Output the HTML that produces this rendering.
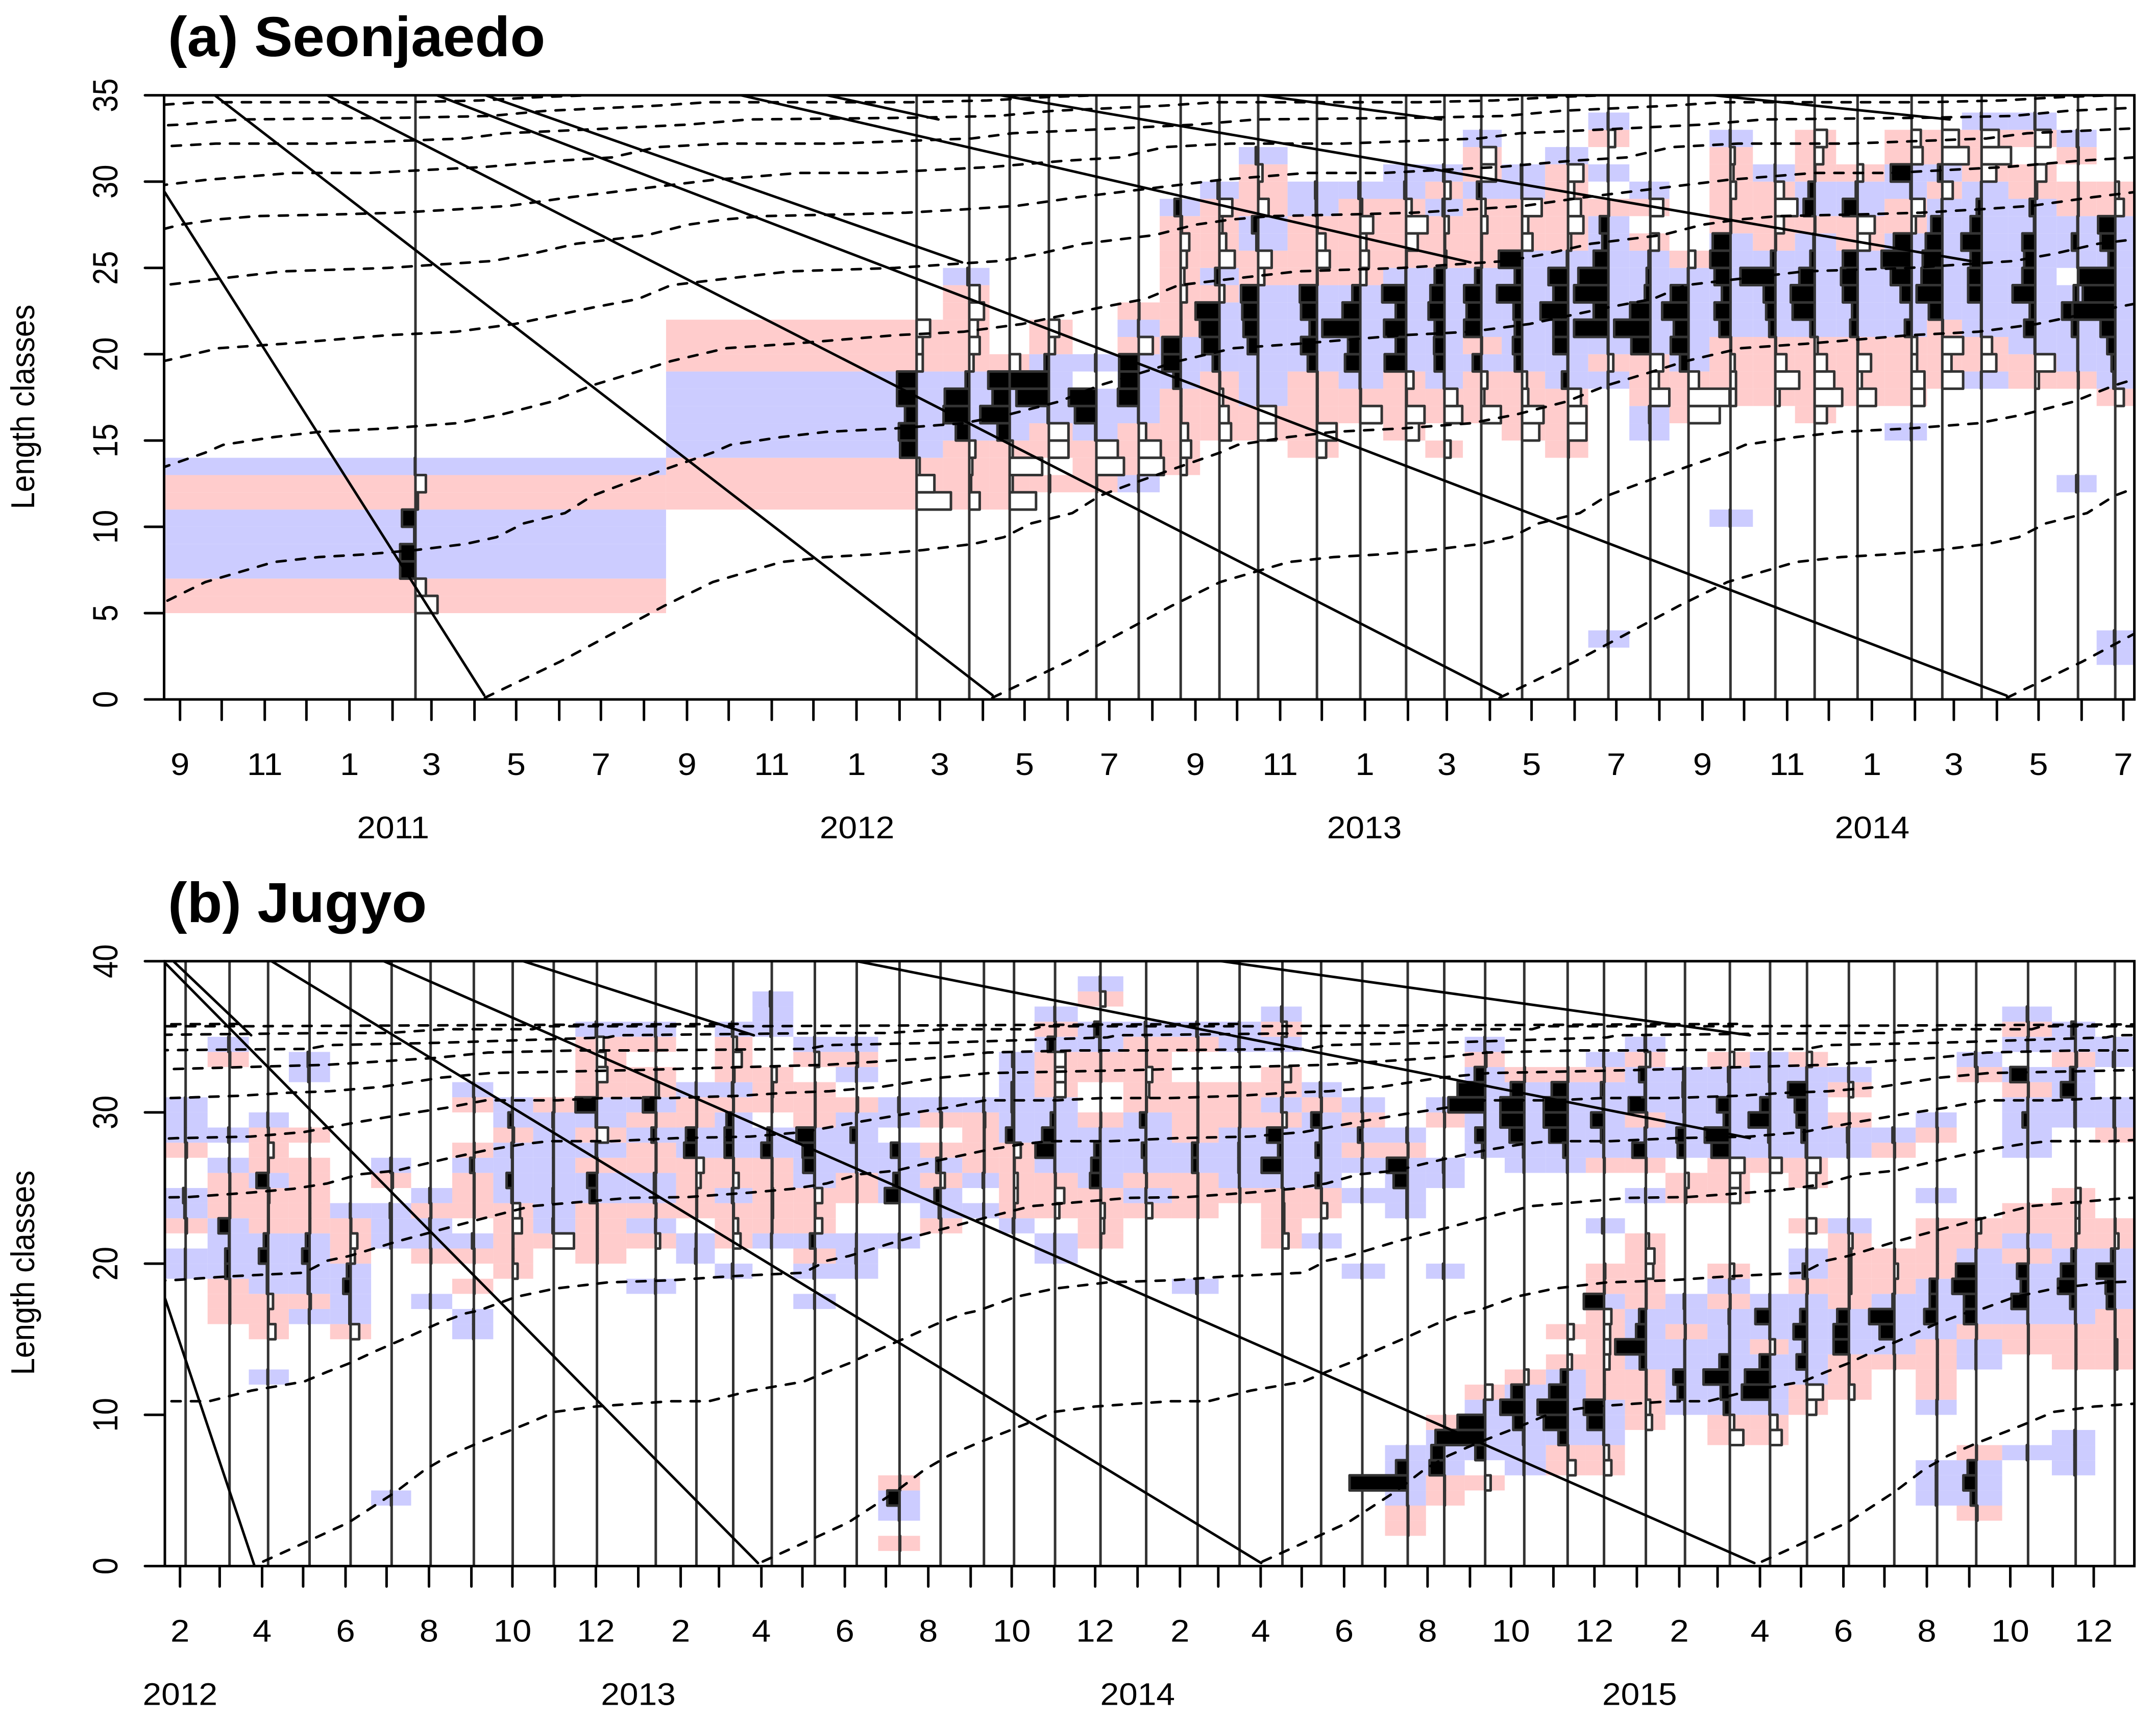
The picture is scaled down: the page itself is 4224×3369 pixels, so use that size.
<!DOCTYPE html>
<html lang="en">
<head>
<meta charset="utf-8">
<title>Length-frequency growth curves: Seonjaedo and Jugyo</title>
<style>
html,body{margin:0;padding:0;background:#fff;width:4224px;height:3369px;overflow:hidden}
svg{display:block}
text{font-family:"Liberation Sans",Arial,sans-serif;fill:#000}
</style>
</head>
<body>
<svg id="figure" xmlns="http://www.w3.org/2000/svg" width="4224" height="3369" viewBox="0 0 4224 3369">
<rect x="0" y="0" width="4224" height="3369" fill="#fff"/>
<text transform="translate(329,110) scale(1.025,1)" font-size="110" font-weight="bold">(a) Seonjaedo</text>
<text transform="translate(329,1806) scale(1.025,1)" font-size="110" font-weight="bold">(b) Jugyo</text>
<text transform="translate(67,797) rotate(-90) scale(0.985,1.07)" font-size="61" text-anchor="middle">Length classes</text>
<text transform="translate(67,2493) rotate(-90) scale(0.985,1.07)" font-size="61" text-anchor="middle">Length classes</text>
<g id="panel-a"></g>
<g id="panel-b"></g>
</svg>
<script>
/* ---------- PANEL A DATA (days since 1 Sep 2010; lengths in classes) ---------- */
const sampleDaysA = [169.5,530.3,568.2,597.3,625.5,659.7,690.2,720.4,748.3,776.2,818.5,849.7,882.7,910.3,936.8,966.2,999.3,1028.3,1058.5,1086,1116.2,1148.5,1176.8,1207.7,1246.6,1268.7,1297,1335.6,1366.4,1393.2];
/* each row: first value = lowest length class, then the signed score per class (up) */
const scoresA = [
[5,-36,-17,25,25,2,22,-4,-17,1],
[11,-56,-29,-5,27,29,19,32,32,-10,-10,-22],
[11,-17,-3,-5,-10,22,42,40,6,-7,-17,-14,-24,-17,3],
[11,-43,-5,-53,-5,20,48,28,35,-17],
[12,-2,0,-32,-32,2,53,64,7,-10,-17],
[12,-1,-45,-35,2,35,45,0,2],
[12,1,-41,-36,-12,1,34,32,32,-23,1,-1],
[13,-10,-17,-12,-1,-1,12,30,30,-1,-1,-10,-6,-10,-14,-2,10],
[15,-19,-15,-6,-1,11,28,32,39,-8,7,-25,-11,-5,-21,3],
[15,-29,-29,1,1,1,17,24,26,28,-10,-22,3,10,-17,-1,-7,4],
[14,-15,-32,-1,-1,-1,15,26,12,26,28,-1,-21,-14,-1,2,3],
[16,-35,-1,1,25,20,62,29,13,-10,-14,-10,-21,-3,3],
[15,-21,-30,-1,-12,35,17,36,17,39,1,-1,-19,-35,-9,3,1],
[14,-10,0,-29,-21,1,16,17,16,26,23,16,-3,-1,-7,3,-10,2],
[16,-32,-5,-10,14,-1,28,24,28,10,-1,-1,-10,-7,7,-24,-24,1],
[15,-28,-35,-10,-8,12,15,12,14,41,12,38,-17,-10,-32,1,2],
[14,-1,-30,-30,-21,10,1,24,24,45,24,32,2,-5,-25,-21,-10,-25,1],
[3,1,0,0,0,0,0,0,0,0,0,0,0,0,0,0,1,-8,1,56,24,56,49,24,10,14,-1,0,1,0,-11,1],
[15,1,2,-31,-14,-21,31,59,33,9,6,3,-14,0,-21,1],
[16,-51,-67,-17,14,29,24,43,29,1,-11],
[10,1,0,0,0,0,0,0,-9,-9,-7,-1,18,26,14,26,33,29,-1,-1,-9,-5,-7,1],
[17,-7,-39,-18,-1,10,15,19,57,7,-1,-14,-36,-14,1],
[16,-20,-45,-32,-20,-5,7,36,39,25,7,2,-1,18,10,-1,-14,-20],
[17,-30,-7,-22,-1,12,9,24,27,24,-20,-28,24,3,-9],
[15,1,0,-21,-21,-9,-9,11,2,18,34,49,29,-7,-21,2,34,-18,-15],
[18,-34,-15,-34,-1,22,42,34,32,27,18,1,-17,7,-43,-27],
[18,1,-24,-17,1,1,22,22,18,33,18,8,1,-24,-48,-28,1],
[18,-6,-32,1,18,9,37,21,18,21,2,9,-3,-18,0,-25,1],
[12,3,0,0,0,0,0,-1,1,1,10,26,7,0,1,10,1,-1,-1,0,-1,2],
[2,1,2,0,0,0,0,0,0,0,0,0,0,0,0,0,-14,3,6,13,24,70,53,60,11,24,28,-14,-6]
];
const growthAgeA = [0,.149,.352,.449,.584,.673,.763,.863,.961,1.023,1.077,1.158,1.212,1.266,1.352,1.449,1.484,1.584,1.673,1.808,1.943,2.032,2.131,2.212,2.302,2.367,2.476,2.602,2.808,2.943,3.059,3.212,3.302,3.367,3.453,3.602,3.808,4.014,4.09,4.18,4.32,4.4,4.47,4.55,4.71,4.83,4.95,5.05,5.17,5.31,5.45,5.62,5.77,6,6.14,6.25,6.34,6.47,6.69,6.96,7.04,7.19,7.4,7.52,7.84,8.01,8.12,8.34,8.44,8.84,8.99,9.11,9.3];
const growthLenA = [.1,2.2,5.4,6.8,7.96,8.25,8.4,8.65,9,9.4,10.2,10.8,11.8,12.4,13.3,14.3,14.75,15.2,15.5,15.7,16,16.5,17.25,18.2,19,19.6,20.35,20.6,21.1,21.3,21.75,22.7,23.2,24,24.3,24.8,25,25.4,25.8,26.4,26.9,27.5,27.8,28,28.1,28.2,28.4,28.6,29.1,29.6,30.1,30.5,30.5,30.85,31.2,31.4,32,32.2,32.2,32.5,32.8,33,33.3,33.6,33.7,33.8,34.1,34.4,34.6,34.6,34.7,34.9,35.1];
const cohortStartA = [1315.3,950,584.8,219.5,-145.8,-511,-876.3,-1241.5,-1606.8,-1972,-2337.3,-2702.5,-3067.8];
const lineStartDayA = [-11.6,25,106,185,220,404,466,591,778,1104];
const lineStartLenA = [29.46,35,35,35,35,35,35,35,35,35];
const lineEndDayA = [219,585,951,1315,563,929,546,1289,908,1274];
const lineEndLenA = [.24,.24,.24,.22,25.32,25.32,33.6,25.4,33.6,33.6];
const yTicksA = [0,5,10,15,20,25,30,35];
const monthLabelsA = [9,11,1,3,5,7,9,11,1,3,5,7,9,11,1,3,5,7,9,11,1,3,5,7];
const yearLabelsA = ["2011","2012","2013","2014"];
const yearLabelDaysA = [153.4,487.4,852.6,1218.2];

/* ---------- PANEL B DATA (days since 1 Feb 2012) ---------- */
const sampleDaysB = [4.1,36.2,64.4,94.7,124.7,154.7,183.2,214.8,243.2,273.2,304.8,347.8,377.5,404.4,432.6,464.1,494.7,526,556,587.7,609.7,639.7,672.9,706.3,743.9,774.6,805.9,834.2,864.3,897.5,924.2,954.1,982.7,1014.4,1041,1071.6,1100.2,1133,1162.4,1189.4,1220,1253.2,1284.5,1313.1,1351,1385.8,1414.4];
const scoresB = [
[19,1,1,0,-2,2,4,0,0,-2,1,1,1],
[16,-1,-1,-1,7,7,1,18,-1,-1,-1,1,0,2,0,0,0,0,-1,2],
[12,1,0,0,-12,-1,-8,2,2,15,7,-1,-1,-2,19,-1,-9,-1,1],
[16,1,-2,3,3,12,6,-1,-1,-1,-1,-1,0,-1,0,0,0,2,3],
[15,-14,2,2,12,6,-7,-11,-1,1],
[4,1,0,0,0,0,0,0,0,0,0,0,0,0,0,0,0,0,2,2,3,0,-2,2],
[17,1,0,0,-1,1,2,-1,2],
[15,1,1,0,-1,0,-1,3,0,-1,-1,-1,6,-1,0,0,-1,1],
[19,-8,-1,-1,-15,-12,2,10,1,2,-2,7,1],
[21,-33,2,1,2,1,1,1,1,2,-1],
[20,-1,-1,-1,-1,12,16,-1,2,-18,2,35,-1,-17,-14,-11,2],
[18,1,0,0,-7,1,-1,3,3,-1,-1,7,-1,21,-5,-1,0,-1,1],
[20,2,1,0,-1,-1,-7,-12,20,17,-1,-1,1],
[19,2,0,-12,-8,-1,2,-9,-1,14,14,11,-1,2,-2,-14,-6,2],
[21,1,-1,-2,-2,-1,-1,17,7,0,-1,-2,-8,0,0,2,2,3],
[17,1,0,2,-1,8,-12,-1,-12,1,19,20,30,-1,-1,-1,0,-7,1],
[19,1,2,1,0,0,-1,-1,1,1,10,1,-2,0,1,-2,1],
[1,-1,0,1,20,-1,0,0,0,0,0,0,0,0,0,0,0,0,0,0,0,1,0,0,24,10,1,14,0,1,2],
[22,-1,3,10,-7,7,-1,0,-2,1],
[23,1,0,2,-1,-1,-1,-2,1],
[22,2,-1,-6,-6,-1,-11,13,3,4,4,1,3],
[20,1,1,0,-7,-15,-1,1,32,21,7,1,-17,-17,-17,12,-1,1],
[21,-1,-6,-7,-1,17,15,10,1,-1,0,0,-1,-1,2,10,0,-8,1],
[23,-10,1,-1,3,7,1,10,-1,-5,-10,-1,-1,2],
[18,2,0,0,0,0,-1,-1,-1,9,9,-1,-1,-1,-1,0,0,-1,2],
[24,-1,1,2,2,1,-1,-1,-1,0,0,2,1],
[21,-10,-3,-3,-2,1,34,7,25,-7,2,-1,-14,0,1,-7,2],
[21,2,0,-10,-1,9,1,9,2,16,-1,2],
[19,1,0,0,0,0,1,0,1,-1,7,-1,1],
[2,-1,-1,1,95,19,1,0,0,0,0,0,0,0,0,0,0,0,0,0,0,0,2,2,23,34,-1,2],
[4,-1,-1,24,21,1,-1,0,0,0,0,0,0,0,0,0,2,0,0,0,0,0,1,2,0,0,-1,1],
[5,-9,0,16,81,45,2,-12,0,0,0,0,0,0,0,0,0,0,0,0,0,0,0,5,16,1,60,45,17,-2,1],
[6,1,1,2,18,39,21,-7,0,0,0,0,0,0,0,0,0,0,0,0,0,1,2,24,39,39,22,-1],
[6,-13,-1,15,39,49,30,11,-7,0,-10,0,0,0,0,0,0,0,0,0,0,1,7,30,39,39,26,-1],
[6,-12,-8,1,27,33,-1,-1,-9,-10,-10,-12,33,-1,-2,0,0,3,0,0,0,-1,1,5,21,2,5,-1,1],
[9,-10,-7,-1,-1,10,50,16,11,-1,-1,-12,-14,-5,0,0,1,0,-1,22,2,-2,28,2,11,-7,2],
[10,1,12,19,1,1,-1,1,2,0,0,0,0,0,0,-2,-6,0,12,14,2,3,4,3],
[8,-22,-7,10,15,43,17,1,1,2,-1,1,-7,0,0,0,0,-17,-17,-24,30,41,10,21,2,3,-7],
[8,-19,-12,1,46,41,17,-8,1,24,1,0,0,0,0,0,0,0,0,-19,1,3,35,16,1,2,2],
[10,-15,-26,1,17,7,22,11,1,-1,7,1,0,-15,0,0,-15,-22,2,9,17,20,31,1,-8],
[11,-9,-1,-1,25,25,19,-1,-4,-4,-4,-6,1,0,0,0,0,2,3,-1,0,-7,1],
[13,-1,1,24,41,3,-1,-6,-1,0,0,0,0,0,0,-1,3],
[4,2,2,2,0,0,0,1,-1,-1,-1,-1,1,21,12,12,-1,-1,-1,-1,0,1,0,0,0,-1,1],
[3,-2,9,21,14,-1,0,0,0,0,0,1,1,-1,20,20,39,33,1,-1,-8,0,0,0,0,0,0,0,0,0,-2,2],
[7,2,0,0,0,0,0,0,-1,-1,1,27,12,18,-1,1,-1,-1,0,0,0,1,1,9,1,-1,29,0,1,-1,2],
[6,2,2,2,0,0,0,0,-1,-1,-1,1,9,29,24,7,-1,-6,-6,-8,0,0,0,0,2,2,24,9,-2,1,7],
[13,-4,-4,-1,-1,13,15,30,6,-6,-1,0,0,0,0,0,-1,2,2,0,0,3,1]
];
const growthAgeB = [0,.082,.171,.265,.324,.372,.431,.489,.527,.584,.665,.746,.816,.892,.976,1.082,1.128,1.172,1.224,1.287,1.347,1.404,1.432,1.506,1.584,1.69,1.817,1.933,2.082,2.129,2.172,2.272,2.357,2.442,2.537,2.643,2.734,2.849,2.976,3.061,3.128,3.192,3.267,3.362,3.447,3.52,3.573,3.697,3.828,3.975,4.082,4.188,4.286,4.366,4.446,4.59,4.679,4.816,4.954,5.05,5.134,5.24,5.356,5.453,5.745,6.129,6.343,6.45,6.63,6.75,7.09,7.13,7.35,7.69,7.71,8.13,8.25,8.36,8.54,8.56,8.98,9.3,9.95];
const growthLenB = [.3,1.53,2.88,4.9,6.38,7.3,8.15,8.9,9.4,10.2,10.55,10.74,10.9,10.9,11.6,12.2,12.84,13.4,14.2,15.1,16,16.7,16.9,17.8,18.35,18.76,18.9,19.16,19.4,20.2,20.5,21.5,22.26,23,23.8,24.1,24.35,24.4,24.7,24.95,25.3,25.9,26.15,26.9,27.5,27.9,28.1,28.1,28.3,28.4,28.7,29.35,29.9,30.3,30.8,30.8,30.95,30.95,31.1,31.3,31.4,31.7,32.3,32.6,32.8,33.15,33.6,33.96,34.1,34.1,34.2,34.45,34.6,34.96,35.1,35.25,35.25,35.5,35.5,35.7,35.7,35.75,35.85];
const cohortStartB = [1156.5,791.3,426,60.8,-304.5,-669.8,-1035,-1400.3,-1765.5,-2130.8,-2496,-2861.3,-3226.5,-3591.8];
const lineStartDayB = [-11.1,-11.1,-4.9,66.9,149,251,494.7,761.3];
const lineStartLenB = [17.74,39.9,40,40,40,40,40,40];
const lineEndDayB = [54.2,422.5,52,790.4,1150.9,419.5,1147.6,1147.6];
const lineEndLenB = [.08,.2,35.1,.2,.2,35.1,28.3,35.1];
const yTicksB = [0,10,20,30,40];
const monthLabelsB = [2,4,6,8,10,12,2,4,6,8,10,12,2,4,6,8,10,12,2,4,6,8,10,12];
const yearLabelsB = ["2012","2013","2014","2015"];
const yearLabelDaysB = [0,335,700,1067];

/* ---------- HELPERS ---------- */
const SVGNS = "http://www.w3.org/2000/svg";
function svgEl(parent, tag, attrs) {
  const el = document.createElementNS(SVGNS, tag);
  for (const key in attrs) el.setAttribute(key, attrs[key]);
  parent.appendChild(el);
  return el;
}
const BAR_PX = 1.2;
const PINK = "#FFCCCC";
const BLUE = "#CCCCFF";
const GREY = "#333333";

function drawPanel(cfg) {
  const root = document.getElementById(cfg.id);
  const x = d => cfg.x0 + cfg.k * d;
  const y = l => cfg.bottom - cfg.rowH * l;
  const top = y(cfg.yMax);
  const clipId = cfg.id + "-clip";
  const defs = svgEl(root, "defs", {});
  const clip = svgEl(defs, "clipPath", {id: clipId});
  svgEl(clip, "rect", {x: cfg.left, y: top, width: cfg.right - cfg.left, height: cfg.bottom - top});

  /* score cells */
  const cellGroup = svgEl(root, "g", {"clip-path": "url(#" + clipId + ")"});
  
  
  cfg.days.forEach((day, i) => {
    const lo = i === 0 ? cfg.left : (x(cfg.days[i - 1]) + x(day)) / 2;
    const hi = i === cfg.days.length - 1 ? cfg.right : (x(day) + x(cfg.days[i + 1])) / 2;
    const row = cfg.scores[i];
    for (let j = 1; j < row.length; j++) {
      const v = row[j];
      if (v === 0) continue;
      const cls = row[0] + j - 1;
      const cell = svgEl(cellGroup, "rect", {x: lo, y: y(cls + 1), width: hi - lo, height: cfg.rowH, fill: v > 0 ? BLUE : PINK});
      
      
    }
  });

  /* sample vertical lines */
  const lineGroup = svgEl(root, "g", {});
  
  
  cfg.days.forEach(day => {
    const ln = svgEl(lineGroup, "line", {x1: x(day), x2: x(day), y1: top, y2: cfg.bottom, stroke: GREY, "stroke-width": 5});
    
    
  });

  /* frequency bars */
  const barGroup = svgEl(root, "g", {});
  
  
  cfg.days.forEach((day, i) => {
    const row = cfg.scores[i];
    for (let j = 1; j < row.length; j++) {
      const v = row[j];
      if (v === 0) continue;
      const cls = row[0] + j - 1;
      const w = Math.abs(v) * BAR_PX;
      const bar = svgEl(barGroup, "rect", {
        x: v > 0 ? x(day) - w : x(day), y: y(cls + 1), width: w, height: cfg.rowH,
        fill: v > 0 ? "#000" : "#fff", stroke: GREY, "stroke-width": 5, "stroke-linejoin": "round"
      });
      
      
    }
  });

  /* growth curves */
  const curveGroup = svgEl(root, "g", {"clip-path": "url(#" + clipId + ")"});
  
  
  cfg.cohorts.forEach(start => {
    const pts = cfg.ages.map((a, n) => x(start + a * 365.25).toFixed(1) + "," + y(cfg.lens[n]).toFixed(1)).join(" ");
    const curve = svgEl(curveGroup, "polyline", {points: pts, fill: "none", stroke: "#000", "stroke-width": 5, "stroke-dasharray": "18 20", "stroke-linecap": "round", "stroke-linejoin": "round"});
    
    
  });

  /* solid cohort lines */
  const solidGroup = svgEl(root, "g", {"clip-path": "url(#" + clipId + ")"});
  
  
  cfg.lineStartDay.forEach((d, i) => {
    const ln = svgEl(solidGroup, "line", {x1: x(d), y1: y(cfg.lineStartLen[i]), x2: x(cfg.lineEndDay[i]), y2: y(cfg.lineEndLen[i]), stroke: "#000", "stroke-width": 5, "stroke-linecap": "round"});
    
    
  });

  /* frame */
  const frame = svgEl(root, "rect", {x: cfg.left, y: top, width: cfg.right - cfg.left, height: cfg.bottom - top, fill: "none", stroke: "#000", "stroke-width": 5});
  
  

  /* y axis */
  const yAxis = svgEl(root, "g", {});
  
  
  cfg.yTicks.forEach(t => {
    const tick = svgEl(yAxis, "line", {x1: 284, x2: cfg.left, y1: y(t), y2: y(t), stroke: "#000", "stroke-width": 5, "stroke-linecap": "round"});
    
    
    const lab = svgEl(yAxis, "text", {transform: "translate(230," + y(t) + ") rotate(-90) scale(0.98,1.12)", "font-size": 61, "text-anchor": "middle"});
    lab.textContent = String(t);
    
    
  });

  /* x axis: one tick per calendar month, a label every second month */
  const xAxis = svgEl(root, "g", {});
  
  
  const nTicks = cfg.monthLabels.length * 2 - 1;
  for (let i = 0; i < nTicks; i++) {
    const d = (Date.UTC(cfg.startYear, cfg.startMonth + i, 1) - Date.UTC(cfg.startYear, cfg.startMonth, 1)) / 864e5;
    const tick = svgEl(xAxis, "line", {x1: x(d), x2: x(d), y1: cfg.bottom, y2: cfg.bottom + 40, stroke: "#000", "stroke-width": 5, "stroke-linecap": "round"});
    
    
    if (i % 2 === 0) {
      const lab = svgEl(xAxis, "text", {transform: "translate(" + x(d) + "," + (cfg.bottom + 148) + ") scale(1.1,1)", "font-size": 61, "text-anchor": "middle"});
      lab.textContent = String(cfg.monthLabels[i / 2]);
      
      
    }
  }
  cfg.yearLabels.forEach((yr, i) => {
    const lab = svgEl(xAxis, "text", {transform: "translate(" + x(cfg.yearDays[i]) + "," + (cfg.bottom + 272) + ") scale(1.08,1)", "font-size": 61, "text-anchor": "middle"});
    lab.textContent = yr;
    
    
  });
}

drawPanel({
  id: "panel-a", left: 321.5, right: 4181.6, bottom: 1370, rowH: 33.81, yMax: 35,
  x0: 352.7, k: 2.7214, startYear: 2010, startMonth: 8,
  days: sampleDaysA, scores: scoresA, ages: growthAgeA, lens: growthLenA, cohorts: cohortStartA,
  lineStartDay: lineStartDayA, lineStartLen: lineStartLenA, lineEndDay: lineEndDayA, lineEndLen: lineEndLenA,
  yTicks: yTicksA, monthLabels: monthLabelsA, yearLabels: yearLabelsA, yearDays: yearLabelDaysA
});
drawPanel({
  id: "panel-b", left: 323, right: 4181.6, bottom: 3067.5, rowH: 29.62, yMax: 40,
  x0: 352.7, k: 2.68, startYear: 2012, startMonth: 1,
  days: sampleDaysB, scores: scoresB, ages: growthAgeB, lens: growthLenB, cohorts: cohortStartB,
  lineStartDay: lineStartDayB, lineStartLen: lineStartLenB, lineEndDay: lineEndDayB, lineEndLen: lineEndLenB,
  yTicks: yTicksB, monthLabels: monthLabelsB, yearLabels: yearLabelsB, yearDays: yearLabelDaysB
});
</script>
</body>
</html>
